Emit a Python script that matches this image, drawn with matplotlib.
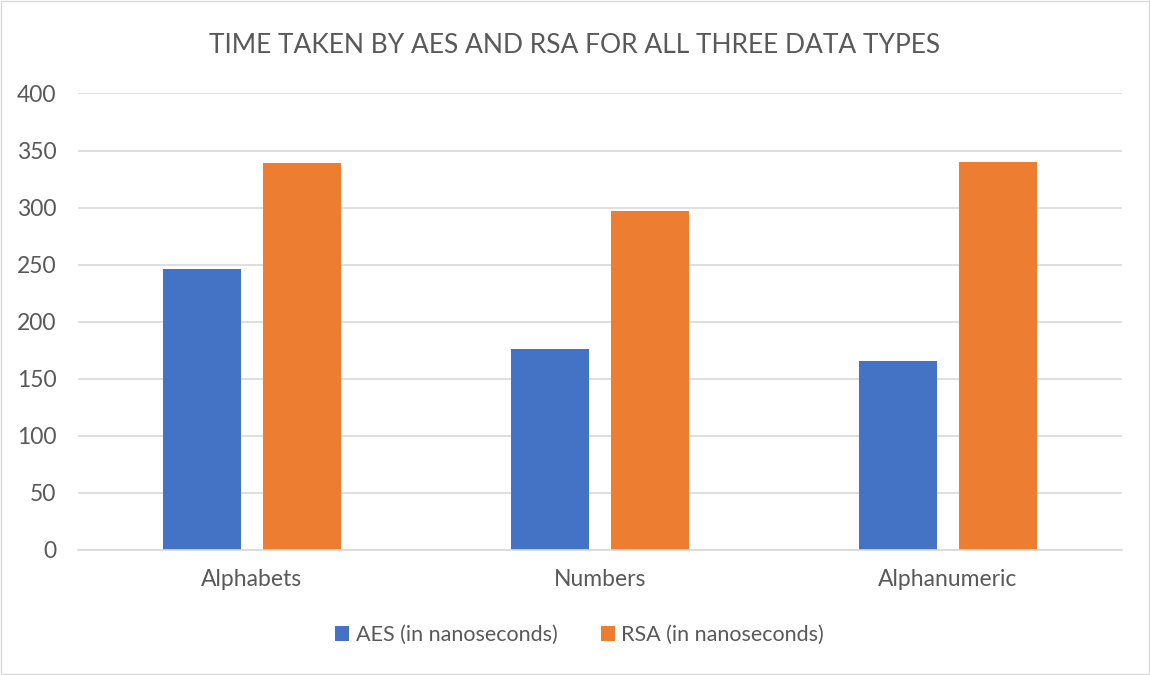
import matplotlib
matplotlib.use('Agg')
import matplotlib.pyplot as plt
import matplotlib.patches as mpatches
import numpy as np

categories = ['Alphabets', 'Numbers', 'Alphanumeric']
aes_times = [246, 176, 166]
rsa_times = [339, 297, 340]
series_names = ['AES (in nanoseconds)', 'RSA (in nanoseconds)']

plt.rcParams['font.family'] = ['Lato', 'DejaVu Sans']
text_color = '#595959'

fig = plt.figure(figsize=(11.5, 6.75), dpi=100)
ax = fig.add_axes([0.0678, 0.1852, 0.9079, 0.6763])

x = np.arange(len(categories))
width = 0.224
offset = 0.143
ax.bar(x - offset, aes_times, width, color='#4472C4', zorder=2, label=series_names[0])
ax.bar(x + offset, rsa_times, width, color='#ED7D31', zorder=2, label=series_names[1])

ax.set_xlim(-0.5, 2.5)
ax.set_ylim(0, 400)
ax.set_yticks(np.arange(0, 401, 50))
ax.set_xticks(x)
ax.set_xticklabels(categories)
ax.grid(True, axis='y', color='#D9D9D9', linewidth=1.2, zorder=1)
for s in ['top', 'right', 'left']:
    ax.spines[s].set_visible(False)
ax.spines['bottom'].set_color('#D9D9D9')
ax.spines['bottom'].set_linewidth(1.2)
ax.tick_params(axis='both', length=0, labelsize=16.5, colors=text_color)
ax.tick_params(axis='y', pad=15.5)
ax.tick_params(axis='x', pad=14)

fig.text(0.5, 0.933, 'TIME TAKEN BY AES AND RSA FOR ALL THREE DATA TYPES',
         ha='center', va='center', fontsize=19, color=text_color)

handles = [mpatches.Patch(facecolor='#4472C4'), mpatches.Patch(facecolor='#ED7D31')]
fig.legend(handles, series_names, loc='center', bbox_to_anchor=(0.504, 0.059), ncol=2,
           frameon=False, fontsize=15.5, labelcolor=text_color, handlelength=0.65,
           handleheight=0.65, handletextpad=0.3, columnspacing=2.0)

fig.patches.append(mpatches.Rectangle((0.001, 0.001), 0.998, 0.997, transform=fig.transFigure,
                                      fill=False, edgecolor='#D9D9D9', linewidth=1))

plt.savefig('out.png', dpi=100)
plt.close()
